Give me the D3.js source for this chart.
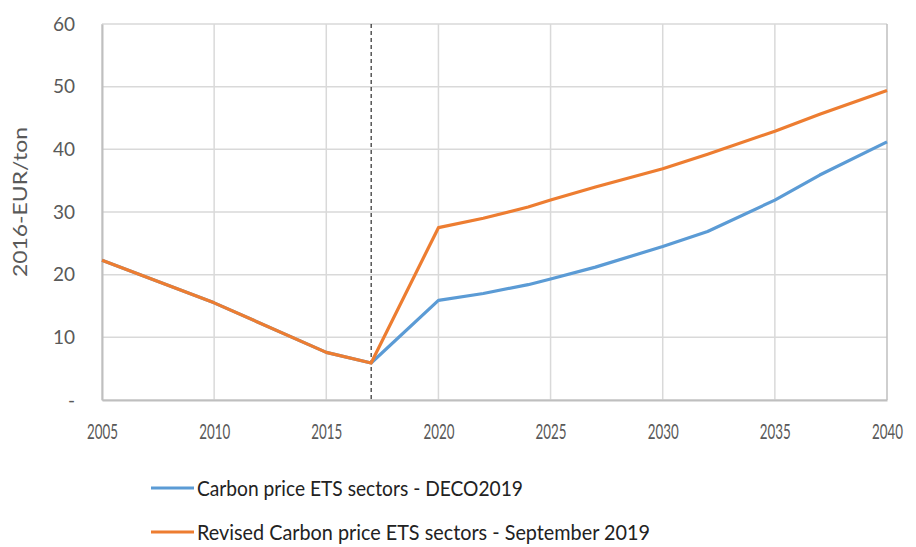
<!DOCTYPE html>
<html>
<head>
<meta charset="utf-8">
<script src="https://cdnjs.cloudflare.com/ajax/libs/d3/7.8.5/d3.min.js"></script>
<style>
  body { margin: 0; background: #fff; }
  text { font-family: Lato, "Open Sans", sans-serif; fill: #595959; }
</style>
</head>
<body>
<script>
// values
var years = [2005, 2010, 2015, 2017, 2020, 2022, 2024, 2025, 2027, 2030, 2032, 2035, 2037, 2040]
var deco2019 = [22.3, 15.5, 7.6, 5.9, 15.9, 17.0, 18.4, 19.3, 21.2, 24.5, 26.9, 31.9, 35.9, 41.2]
var revised = [22.3, 15.5, 7.6, 5.9, 27.5, 29.0, 30.8, 31.9, 34.0, 36.9, 39.2, 42.9, 45.6, 49.4]
var xTicks = [2005, 2010, 2015, 2020, 2025, 2030, 2035, 2040]
var yTicks = [0, 10, 20, 30, 40, 50, 60]
var markerYear = 2017
var seriesNames = ['Carbon price ETS sectors - DECO2019', 'Revised Carbon price ETS sectors - September 2019']

var margin = {top: 24, right: 29, bottom: 147, left: 102},
    width = 916 - margin.left - margin.right,
    height = 547 - margin.top - margin.bottom

var svg = d3.select('body').append('svg')
    .attr('width', 916)
    .attr('height', 547)
var g = svg.append('g')
    .attr('transform', 'translate(' + margin.left + ',' + margin.top + ')')

var x = d3.scaleLinear().domain([2005, 2040]).range([0, width])
var y = d3.scaleLinear().domain([0, 60]).range([height, 0])

// gridlines
g.append('g')
    .selectAll('line.hgrid')
    .data(yTicks)
    .enter().append('line')
    .attr('x1', 0).attr('x2', width)
    .attr('y1', function (d) { return y(d) }).attr('y2', function (d) { return y(d) })
    .attr('stroke', '#d9d9d9').attr('stroke-width', 1.5)
g.append('g')
    .selectAll('line.vgrid')
    .data(xTicks)
    .enter().append('line')
    .attr('x1', function (d) { return x(d) }).attr('x2', function (d) { return x(d) })
    .attr('y1', 0).attr('y2', height)
    .attr('stroke', function (d, i) { return i == xTicks.length - 1 ? '#bfbfbf' : '#d9d9d9' })
    .attr('stroke-width', 1.5)

// axes
var xAxis = d3.axisBottom(x).tickValues(xTicks).tickFormat(d3.format('d')).tickSize(0).tickPadding(24)
var yAxis = d3.axisLeft(y).tickValues(yTicks).tickSize(0).tickPadding(27)
    .tickFormat(function (d) { return d === 0 ? '-' : d })

var gx = g.append('g')
    .attr('transform', 'translate(0,' + height + ')')
    .call(xAxis)
gx.select('.domain').attr('stroke', '#bfbfbf').attr('stroke-width', 2)
gx.selectAll('text')
    .style('font-size', '21px')
    .attr('textLength', 31)
    .attr('lengthAdjust', 'spacingAndGlyphs')
    .attr('fill', '#595959')

var gy = g.append('g').call(yAxis)
gy.select('.domain').attr('stroke', '#bfbfbf').attr('stroke-width', 2)
gy.selectAll('text').style('font-size', '19px').attr('fill', '#595959')

svg.append('text')
    .attr('transform', 'translate(27,' + (margin.top + 178) + ') rotate(-90)')
    .style('text-anchor', 'middle')
    .style('font-size', '19px')
    .attr('textLength', 150)
    .attr('lengthAdjust', 'spacingAndGlyphs')
    .text('2016-EUR/ton')

// 2017 marker
g.append('line')
    .attr('x1', x(markerYear)).attr('x2', x(markerYear))
    .attr('y1', 0).attr('y2', height)
    .attr('stroke', '#000').attr('stroke-width', 1)
    .attr('stroke-dasharray', '4,3')

var line = d3.line()
    .x(function (d) { return x(d[0]) })
    .y(function (d) { return y(d[1]) })

var colors = ['#5b9bd5', '#ed7d31']
var series = [deco2019, revised]

series.forEach(function (s, i) {
  g.append('path')
      .datum(years.map(function (yr, j) { return [yr, s[j]] }))
      .attr('fill', 'none')
      .attr('stroke', colors[i])
      .attr('stroke-width', 3.2)
      .attr('stroke-linejoin', 'round')
      .attr('d', line)
})

// legend
var legendWidths = [326, 453]
var legend = svg.append('g')
seriesNames.forEach(function (name, i) {
  var ly = 488 + i * 44
  legend.append('line')
      .attr('x1', 151).attr('x2', 194)
      .attr('y1', ly).attr('y2', ly)
      .attr('stroke', colors[i]).attr('stroke-width', 3.2)
  legend.append('text')
      .attr('x', 197).attr('y', ly + 8)
      .style('font-size', '22px')
      .style('fill', '#222')
      .attr('textLength', legendWidths[i])
      .attr('lengthAdjust', 'spacingAndGlyphs')
      .text(name)
})
</script>
</body>
</html>
